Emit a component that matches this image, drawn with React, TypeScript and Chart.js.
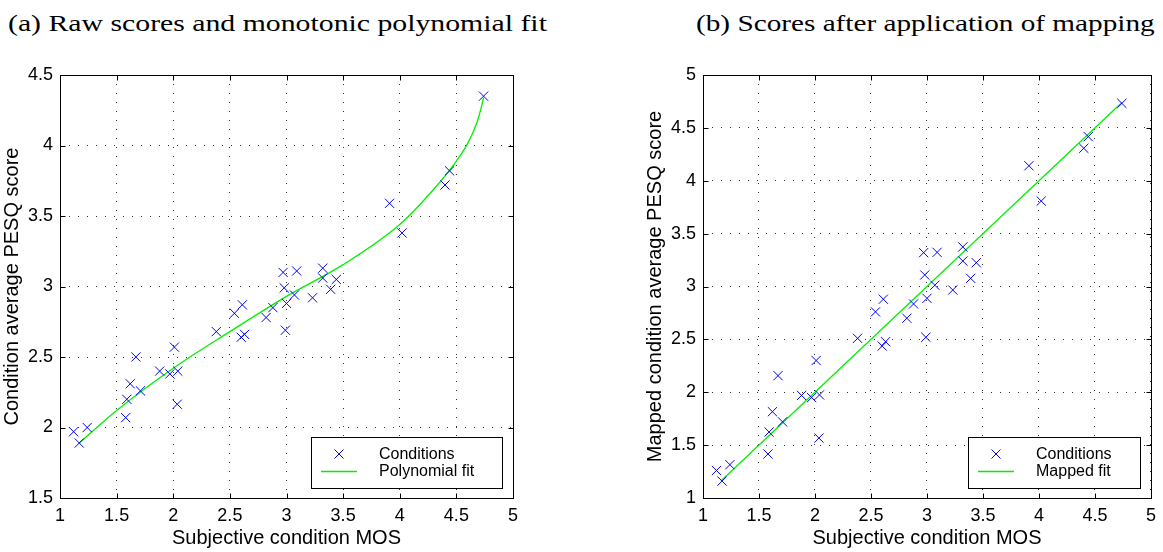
import React, { useEffect, useRef } from 'react';
import { Chart, registerables } from 'chart.js';

Chart.register(...registerables);

// ---------------- data ----------------
const panelTitles = [
  '(a) Raw scores and monotonic polynomial fit',
  '(b) Scores after application of mapping',
];
const xAxisTitle = 'Subjective condition MOS';
const yAxisTitles = ['Condition average PESQ score', 'Mapped condition average PESQ score'];
const scatterLabel = 'Conditions';
const fitLabels = ['Polynomial fit', 'Mapped fit'];

// subjective MOS per condition
const mos = [
  1.12, 1.17, 1.24, 1.58, 1.59, 1.62, 1.67, 1.71, 1.88, 1.97, 2.01, 2.04,
  2.035, 2.38, 2.54, 2.61, 2.60, 2.63, 2.82, 2.88, 2.98, 3.00, 2.99, 2.97,
  3.09, 3.07, 3.23, 3.32, 3.32, 3.44, 3.39, 3.91, 4.02, 4.40, 4.44, 4.74,
];
// raw condition-average PESQ
const rawPesq = [
  1.97, 1.89, 2.00, 2.07, 2.20, 2.31, 2.50, 2.26, 2.40, 2.38, 2.57, 2.40,
  2.165, 2.68, 2.81, 2.87, 2.64, 2.66, 2.78, 2.85, 2.99, 2.88, 2.69, 3.10,
  3.11, 2.94, 2.92, 3.13, 3.06, 3.05, 2.98, 3.59, 3.38, 3.72, 3.82, 4.35,
];
// mapped condition-average PESQ
const mappedPesq = [
  1.26, 1.16, 1.315, 1.416, 1.624, 1.816, 2.157, 1.72, 1.97, 1.95, 2.30, 1.975,
  1.567, 2.51, 2.76, 2.88, 2.437, 2.478, 2.70, 2.835, 3.109, 2.888, 2.52, 3.32,
  3.323, 3.012, 2.967, 3.374, 3.241, 3.225, 3.077, 4.142, 3.808, 4.307, 4.417, 4.732,
];
// monotonic polynomial fit
const polyFitX = [1.17, 1.5, 2.0, 2.5, 3.0, 3.5, 4.0, 4.3, 4.5, 4.6, 4.68, 4.72, 4.74];
const polyFitY = [1.89, 2.12, 2.42, 2.68, 2.93, 3.155, 3.44, 3.69, 3.89, 4.015, 4.16, 4.27, 4.34];
// mapped fit
const mapFitX = [1.16, 4.74];
const mapFitY = [1.16, 4.74];

const xRange = [1, 5];
const yRanges = [
  [1.5, 4.5],
  [1, 5],
];
const tickStep = 0.5;

// ---------------- styles ----------------
const SANS = '"Liberation Sans", Arial, Helvetica, sans-serif';
const SERIF = '"Liberation Serif", "Times New Roman", Times, serif';

const framePlugin = {
  id: 'matlabFrame',
  afterDraw(chart: any) {
    const { ctx, chartArea: a, scales } = chart;
    const L = Math.round(a.left) + 0.5;
    const R = Math.round(a.right) + 0.5;
    const T = Math.round(a.top) + 0.5;
    const B = Math.round(a.bottom) + 0.5;
    ctx.save();
    ctx.strokeStyle = '#000';
    ctx.lineWidth = 1;
    ctx.setLineDash([]);
    ctx.beginPath();
    const tl = 5;
    scales.x.ticks.forEach((t: any) => {
      const px = Math.round(scales.x.getPixelForValue(t.value)) + 0.5;
      ctx.moveTo(px, B);
      ctx.lineTo(px, B - tl);
      ctx.moveTo(px, T);
      ctx.lineTo(px, T + tl);
    });
    scales.y.ticks.forEach((t: any) => {
      const py = Math.round(scales.y.getPixelForValue(t.value)) + 0.5;
      ctx.moveTo(L, py);
      ctx.lineTo(L + tl, py);
      ctx.moveTo(R, py);
      ctx.lineTo(R - tl, py);
    });
    ctx.stroke();
    ctx.strokeRect(L, T, R - L, B - T);
    ctx.restore();
  },
};

const legendPlugin = {
  id: 'insetLegend',
  afterDraw(chart: any) {
    const { ctx, chartArea: a } = chart;
    const ds = chart.data.datasets;
    ctx.save();
    ctx.font = `16px ${SANS}`;
    const textW = Math.max(...ds.map((d: any) => ctx.measureText(d.label).width));
    const w = Math.round(68 + textW + 28);
    const h = 51;
    const x0 = Math.round(a.right - 11 - w);
    const y0 = Math.round(a.bottom - 10 - h);
    ctx.fillStyle = '#fff';
    ctx.fillRect(x0, y0, w, h);
    ctx.strokeStyle = '#000';
    ctx.lineWidth = 1;
    ctx.strokeRect(x0 + 0.5, y0 + 0.5, w, h);
    const rows = [y0 + 17, y0 + 34];
    ds.forEach((d: any, i: number) => {
      const y = rows[i];
      if (d.showLine) {
        ctx.strokeStyle = d.borderColor;
        ctx.lineWidth = d.borderWidth;
        ctx.beginPath();
        ctx.moveTo(x0 + 10, y + 0.5);
        ctx.lineTo(x0 + 46, y + 0.5);
        ctx.stroke();
      } else {
        const cx = x0 + 28;
        const r = 4.5;
        ctx.strokeStyle = d.borderColor;
        ctx.lineWidth = d.borderWidth;
        ctx.beginPath();
        ctx.moveTo(cx - r, y - r);
        ctx.lineTo(cx + r, y + r);
        ctx.moveTo(cx - r, y + r);
        ctx.lineTo(cx + r, y - r);
        ctx.stroke();
      }
      ctx.fillStyle = '#000';
      ctx.textAlign = 'left';
      ctx.textBaseline = 'middle';
      ctx.fillText(d.label, x0 + 68, y + 1);
    });
    ctx.restore();
  },
};

type PanelProps = {
  idx: number;
  left: number;
  width: number;
  padLeft: number;
  padRight: number;
};

function Panel({ idx, left, width, padLeft, padRight }: PanelProps) {
  const ref = useRef<HTMLCanvasElement | null>(null);
  useEffect(() => {
    if (!ref.current) return;
    const yVals = idx === 0 ? rawPesq : mappedPesq;
    const fx = idx === 0 ? polyFitX : mapFitX;
    const fy = idx === 0 ? polyFitY : mapFitY;
    const chart = new Chart(ref.current, {
      type: 'scatter',
      data: {
        datasets: [
          {
            label: scatterLabel,
            data: mos.map((x, i) => ({ x, y: yVals[i] })),
            pointStyle: 'crossRot',
            pointRadius: 6.5,
            pointHoverRadius: 6.5,
            borderColor: '#0000ff',
            backgroundColor: '#0000ff',
            borderWidth: 1,
            showLine: false,
          },
          {
            label: fitLabels[idx],
            data: fx.map((x, i) => ({ x, y: fy[i] })),
            showLine: true,
            pointRadius: 0,
            borderColor: '#00f000',
            backgroundColor: '#00f000',
            borderWidth: 1.3,
            cubicInterpolationMode: 'monotone',
            fill: false,
          },
        ],
      } as any,
      options: {
        responsive: false,
        animation: false,
        events: [],
        layout: { padding: { left: padLeft, right: padRight, top: 75, bottom: 0 } },
        plugins: {
          legend: { display: false },
          tooltip: { enabled: false },
          title: { display: false },
        },
        scales: {
          x: {
            type: 'linear',
            min: xRange[0],
            max: xRange[1],
            ticks: {
              stepSize: tickStep,
              padding: 7,
              color: '#000',
              font: { size: 18, family: SANS },
              maxRotation: 0,
              autoSkip: false,
              callback: (v: any) => String(v),
            },
            grid: { color: '#333', lineWidth: 1, drawTicks: false },
            border: { display: false, dash: [1, 8] },
            title: {
              display: true,
              text: xAxisTitle,
              color: '#000',
              font: { size: 20, family: SANS },
              padding: { top: 0, bottom: 2 },
            },
            afterFit: (s: any) => {
              s.height = 54;
            },
          },
          y: {
            type: 'linear',
            min: yRanges[idx][0],
            max: yRanges[idx][1],
            ticks: {
              stepSize: tickStep,
              padding: 7,
              color: '#000',
              font: { size: 18, family: SANS },
              autoSkip: false,
              callback: (v: any) => String(v),
            },
            grid: { color: '#333', lineWidth: 1, drawTicks: false },
            border: { display: false, dash: [1, 8] },
            title: {
              display: true,
              text: yAxisTitles[idx],
              color: '#000',
              font: { size: 20, family: SANS },
              padding: { top: 0, bottom: 0 },
            },
            afterFit: (s: any) => {
              s.width = 60;
            },
          },
        },
      } as any,
      plugins: [framePlugin, legendPlugin],
    });
    return () => chart.destroy();
  }, [idx, padLeft, padRight]);
  return (
    <canvas
      ref={ref}
      width={width}
      height={552}
      style={{ position: 'absolute', left, top: 0, width, height: 552 }}
    />
  );
}

export default function App() {
  const titleStyle: React.CSSProperties = {
    position: 'absolute',
    top: 12,
    font: `23px ${SERIF}`,
    lineHeight: '23px',
    whiteSpace: 'nowrap',
    color: '#000',
    transformOrigin: 'left top',
  };
  return (
    <div
      style={{
        position: 'fixed',
        left: 0,
        top: 0,
        width: 1163,
        height: 552,
        background: '#fff',
        overflow: 'hidden',
      }}
    >
      <div style={{ ...titleStyle, left: 8, transform: 'scaleX(1.294)' }}>{panelTitles[0]}</div>
      <div style={{ ...titleStyle, left: 696, transform: 'scaleX(1.271)' }}>{panelTitles[1]}</div>
      <Panel idx={0} left={0} width={580} padLeft={0} padRight={67} />
      <Panel idx={1} left={583} width={580} padLeft={60} padRight={8} />
    </div>
  );
}
